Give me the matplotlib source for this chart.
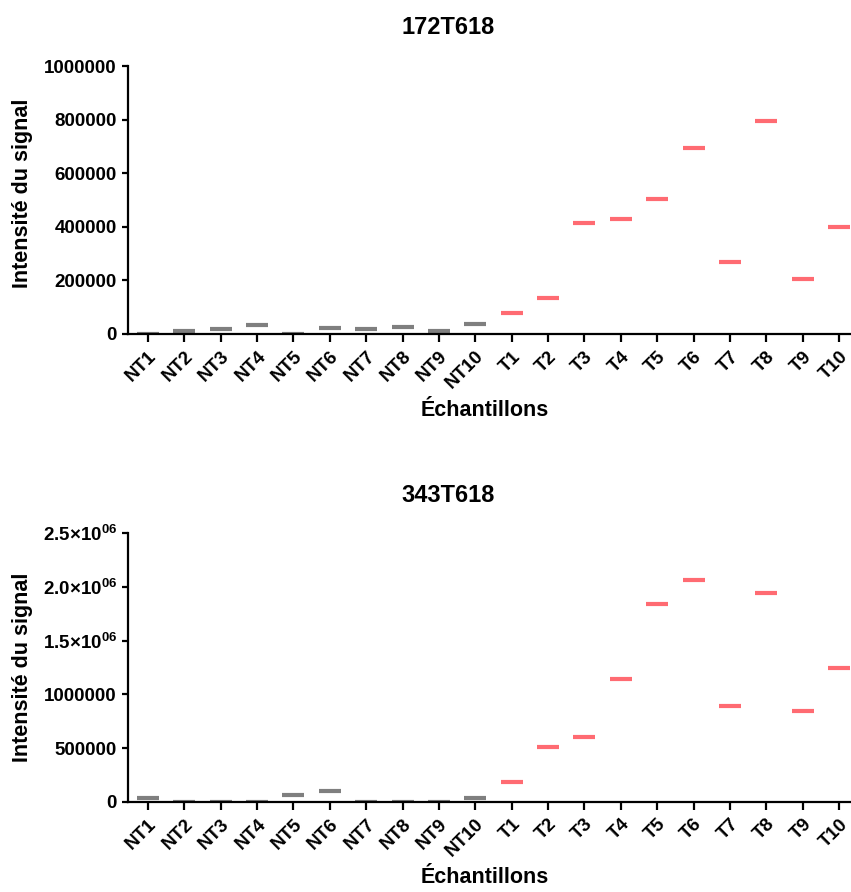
import numpy as np
import matplotlib
matplotlib.use("Agg")
import matplotlib.pyplot as plt

plt.rcParams['font.family'] = ['Liberation Sans', 'DejaVu Sans']
plt.rcParams['font.weight'] = 'bold'
plt.rcParams['mathtext.fontset'] = 'custom'
plt.rcParams['mathtext.rm'] = 'Liberation Sans:bold'
plt.rcParams['mathtext.it'] = 'Liberation Sans:bold'
plt.rcParams['mathtext.bf'] = 'Liberation Sans:bold'

# sample names
samples = ['NT1', 'NT2', 'NT3', 'NT4', 'NT5', 'NT6', 'NT7', 'NT8', 'NT9', 'NT10',
           'T1', 'T2', 'T3', 'T4', 'T5', 'T6', 'T7', 'T8', 'T9', 'T10']
n_normal = 10

# 172T618 signal
sig_172 = [0, 11000, 18000, 32000, 0, 22000, 18000, 27000, 12000, 37000,
           77000, 133000, 413000, 428000, 502000, 693000, 267000, 793000, 206000, 398000]
ticks_172 = [0, 200000, 400000, 600000, 800000, 1000000]
ticklabels_172 = ['0', '200000', '400000', '600000', '800000', '1000000']

# 343T618 signal
sig_343 = [37000, 0, 0, 0, 60000, 96000, 0, 0, 0, 37000,
           181000, 507000, 605000, 1143000, 1844000, 2067000, 894000, 1946000, 845000, 1245000]
ticks_343 = [0, 500000, 1000000, 1500000, 2000000, 2500000]
ticklabels_343 = ['0', '500000', '1000000', r'1.5×10$^{06}$', r'2.0×10$^{06}$', r'2.5×10$^{06}$']

grey = '#7f7f7f'
red = '#ff6b72'

fig = plt.figure(figsize=(8.51, 8.92), dpi=100)

def draw_panel(rect, values, ticks, ticklabels, title, title_y, ylab_y):
    ax = fig.add_axes(rect)
    x = np.arange(len(samples))
    vals = np.array(values)
    ax.plot(x[:n_normal], vals[:n_normal], ls='none', marker='_', ms=16.5, mew=3, color=grey)
    ax.plot(x[n_normal:], vals[n_normal:], ls='none', marker='_', ms=16.5, mew=3, color=red)
    ax.set_xlim(-0.55, len(samples) - 0.45)
    ax.set_ylim(0, ticks[-1])
    ax.set_yticks(ticks)
    ax.set_yticklabels(ticklabels, fontsize=13.5, fontweight='bold')
    ax.set_xticks(x)
    ax.set_xticklabels(samples, fontsize=13.5, fontweight='bold', rotation=45,
                       ha='right', va='top', rotation_mode='anchor')
    for s in ['top', 'right']:
        ax.spines[s].set_visible(False)
    for s in ['left', 'bottom']:
        ax.spines[s].set_linewidth(1.6)
    ax.tick_params(axis='y', length=4, width=1.6, pad=4)
    ax.tick_params(axis='x', length=6, width=1.6, pad=4)
    ax.set_ylabel('Intensité du signal', fontsize=15.5, fontweight='bold')
    ax.yaxis.set_label_coords(-0.130, ylab_y)
    ax.set_xlabel('Échantillons', fontsize=15.5, fontweight='bold', va='top')
    ax.xaxis.set_label_coords(0.488, -0.245)
    fig.text(0.527, title_y, title, fontsize=17, fontweight='bold',
             ha='center', va='baseline')
    return ax

draw_panel([0.1504, 0.6256, 0.859, 0.3004], sig_172, ticks_172, ticklabels_172,
           '172T618', 0.962, 0.525)
draw_panel([0.1504, 0.1012, 0.859, 0.3009], sig_343, ticks_343, ticklabels_343,
           '343T618', 0.437, 0.5)

fig.savefig('out.png', dpi=100)
